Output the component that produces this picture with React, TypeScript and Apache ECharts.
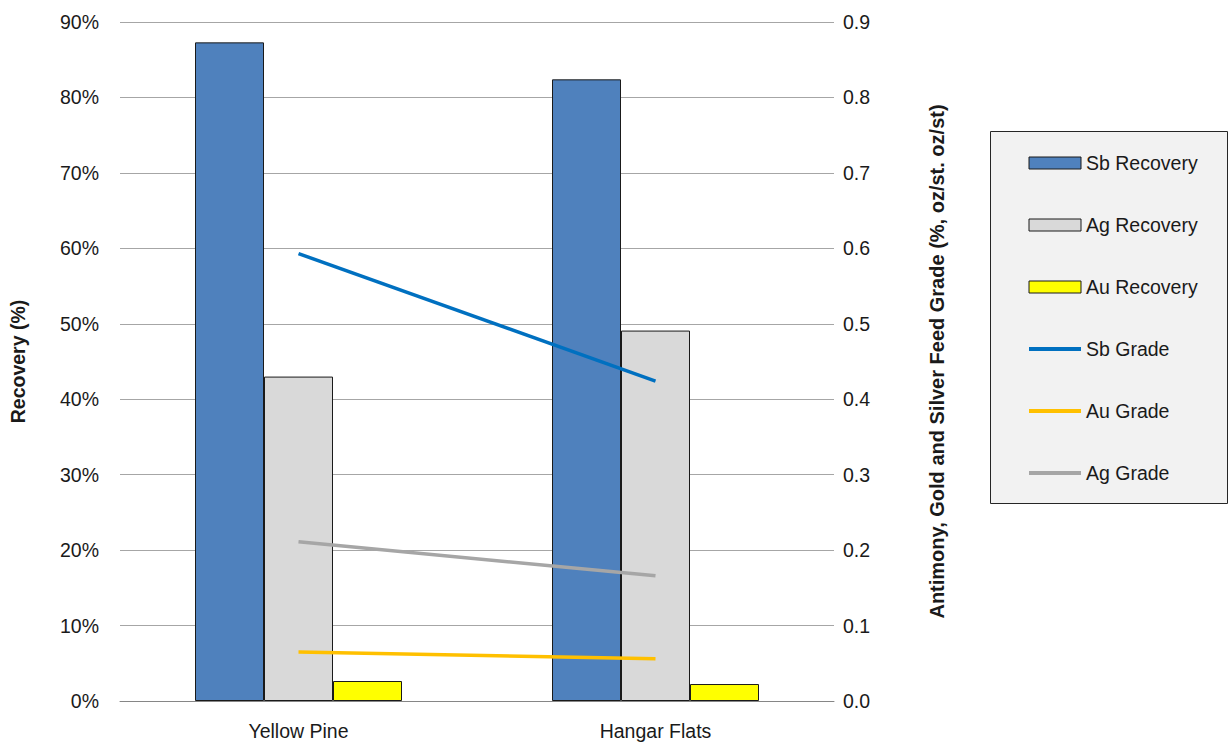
import React, { useEffect, useRef } from "react";
import * as echarts from "echarts";

const categories = ["Yellow Pine", "Hangar Flats"];
const sbRecovery = [87.3, 82.4];
const agRecovery = [43.0, 49.1];
const auRecovery = [2.65, 2.25];
const sbGrade = [0.593, 0.424];
const auGrade = [0.065, 0.056];
const agGrade = [0.211, 0.166];
const leftTicks = { min: 0, max: 90, interval: 10 };
const rightTicks = { min: 0, max: 0.9, interval: 0.1 };

const FONT = "'Liberation Sans', Arial, sans-serif";
const FS = 19.5;
const TXT = "#1a1a1a";
const hiddenSymbol = { color: "rgba(0,0,0,0)", borderWidth: 0, opacity: 0 };

export default function App() {
  const ref = useRef<HTMLDivElement>(null);
  useEffect(() => {
    if (!ref.current) return;
    const chart = echarts.init(ref.current, undefined, { renderer: "svg" });
    chart.setOption({
      animation: false,
      textStyle: { fontFamily: FONT, color: TXT },
      grid: { left: 118, right: 394, top: 22, bottom: 44, containLabel: false },
      graphic: [
        {
          type: "rect",
          left: 990,
          top: 131,
          shape: { width: 237, height: 372 },
          style: { fill: "#f2f2f2", stroke: "#262626", lineWidth: 1 },
          z: -1,
        },
      ],
      legend: {
        orient: "vertical",
        left: 1022,
        top: 147,
        itemWidth: 52,
        itemHeight: 12,
        itemGap: 40,
        textStyle: { fontFamily: FONT, fontSize: FS, color: TXT, lineHeight: 22 },
        data: [
          { name: "Sb Recovery", icon: "rect", itemStyle: { borderWidth: 1 } },
          { name: "Ag Recovery", icon: "rect", itemStyle: { borderWidth: 1 } },
          { name: "Au Recovery", icon: "rect", itemStyle: { borderWidth: 1 } },
          { name: "Sb Grade", itemStyle: hiddenSymbol, lineStyle: { width: 4 } },
          { name: "Au Grade", itemStyle: hiddenSymbol, lineStyle: { width: 4 } },
          { name: "Ag Grade", itemStyle: hiddenSymbol, lineStyle: { width: 4 } },
        ],
      },
      xAxis: {
        type: "category",
        data: categories,
        axisLine: { show: true, lineStyle: { color: "#868686", width: 1 } },
        axisTick: { show: false },
        axisLabel: { fontFamily: FONT, fontSize: FS, color: TXT, margin: 20 },
      },
      yAxis: [
        {
          type: "value",
          min: leftTicks.min,
          max: leftTicks.max,
          interval: leftTicks.interval,
          name: "Recovery (%)",
          nameLocation: "middle",
          nameGap: 92,
          nameTextStyle: { fontFamily: FONT, fontSize: FS, fontWeight: "bold", color: TXT },
          axisLine: { show: false },
          axisTick: { show: false },
          axisLabel: { formatter: "{value}%", fontFamily: FONT, fontSize: FS, color: TXT, margin: 21 },
          splitLine: { show: true, lineStyle: { color: "#a6a6a6", width: 1 } },
        },
        {
          type: "value",
          position: "right",
          min: rightTicks.min,
          max: rightTicks.max,
          interval: rightTicks.interval,
          name: "Antimony, Gold and Silver Feed Grade (%, oz/st. oz/st)",
          nameLocation: "middle",
          nameGap: 93,
          nameRotate: 90,
          nameTextStyle: { fontFamily: FONT, fontSize: 20, fontWeight: "bold", color: TXT },
          axisLine: { show: false },
          axisTick: { show: false },
          axisLabel: {
            formatter: (v: number) => v.toFixed(1),
            fontFamily: FONT,
            fontSize: FS,
            color: TXT,
            margin: 9,
          },
          splitLine: { show: false },
        },
      ],
      series: [
        {
          name: "Sb Recovery",
          type: "bar",
          data: sbRecovery,
          barWidth: 69,
          barGap: "0%",
          itemStyle: { color: "#4f81bd", borderColor: "#1a1a1a", borderWidth: 1 },
        },
        {
          name: "Ag Recovery",
          type: "bar",
          data: agRecovery,
          barWidth: 69,
          barGap: "0%",
          itemStyle: { color: "#d9d9d9", borderColor: "#1a1a1a", borderWidth: 1 },
        },
        {
          name: "Au Recovery",
          type: "bar",
          data: auRecovery,
          barWidth: 69,
          barGap: "0%",
          itemStyle: { color: "#ffff00", borderColor: "#1a1a1a", borderWidth: 1 },
        },
        {
          name: "Sb Grade",
          type: "line",
          yAxisIndex: 1,
          data: sbGrade,
          symbol: "none",
          lineStyle: { color: "#0070c0", width: 3.5 },
          itemStyle: { color: "#0070c0" },
        },
        {
          name: "Au Grade",
          type: "line",
          yAxisIndex: 1,
          data: auGrade,
          symbol: "none",
          lineStyle: { color: "#ffc000", width: 3.5 },
          itemStyle: { color: "#ffc000" },
        },
        {
          name: "Ag Grade",
          type: "line",
          yAxisIndex: 1,
          data: agGrade,
          symbol: "none",
          lineStyle: { color: "#a6a6a6", width: 3.5 },
          itemStyle: { color: "#a6a6a6" },
        },
      ],
    });
    return () => chart.dispose();
  }, []);
  return (
    <div
      ref={ref}
      style={{ position: "fixed", left: 0, top: 0, width: 1228, height: 745, background: "#fff" }}
    />
  );
}
